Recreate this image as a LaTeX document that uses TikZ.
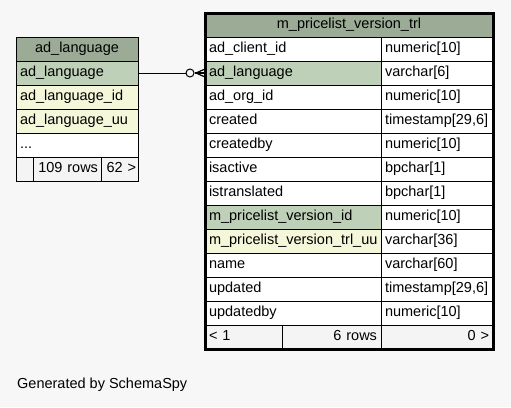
\documentclass[tikz,border=0pt]{standalone}
\usepackage{fontspec}
\setmainfont{Liberation Sans}
\usetikzlibrary{positioning}
\definecolor{bgcol}{HTML}{F7F7F7}
\definecolor{headcol}{HTML}{9BAB96}
\definecolor{keycol}{HTML}{BED1B8}
\definecolor{uucol}{HTML}{F4F7DA}
\definecolor{footcol}{HTML}{F4F4F4}
\newcommand{\tabfont}{\fontsize{14.5}{16}\selectfont}

\begin{document}
\begin{tikzpicture}[x=1pt, y=-1pt, every node/.style={font=\tabfont},
    cell/.style={draw, line width=0.8pt, fill=white, anchor=north west, inner xsep=4pt, inner ysep=0pt, outer sep=0pt,
      minimum height=24pt, text height=10.5pt, text depth=3pt, text width=#1, align=left},
    rcell/.style={cell=#1, align=right, fill=footcol},
    head/.style={cell=#1, align=center, fill=headcol}]
    \fill[bgcol] (0,0) rectangle (511,407);
    \useasboundingbox (0,0) rectangle (511,407);

    % ad_language
    \node[head=114pt] (lh) at (16,37) {ad\_language};
    \node[cell=114pt, fill=keycol] (l1) at (lh.south west) {ad\_language};
    \node[cell=114pt, fill=uucol] (l2) at (l1.south west) {ad\_language\_id};
    \node[cell=114pt, fill=uucol] (l3) at (l2.south west) {ad\_language\_uu};
    \node[cell=114pt] (l4) at (l3.south west) {...};
    \node[rcell=9pt] (lf1) at (l4.south west) {};
    \node[rcell=62pt, inner xsep=3pt] (lf2) at (lf1.north east) {109 rows};
    \node[rcell=33pt, inner xsep=2pt] (lf3) at (lf2.north east) {62 >};

    % m_pricelist_version_trl
    \node[head=280pt] (rh) at (205,13) {m\_pricelist\_version\_trl};
    \node[cell=168pt] (rn1) at (rh.south west) {ad\_client\_id};
    \node[cell=168pt, fill=keycol] (rn2) at (rn1.south west) {ad\_language};
    \node[cell=168pt] (rn3) at (rn2.south west) {ad\_org\_id};
    \node[cell=168pt] (rn4) at (rn3.south west) {created};
    \node[cell=168pt] (rn5) at (rn4.south west) {createdby};
    \node[cell=168pt] (rn6) at (rn5.south west) {isactive};
    \node[cell=168pt] (rn7) at (rn6.south west) {istranslated};
    \node[cell=168pt, fill=keycol] (rn8) at (rn7.south west) {m\_pricelist\_version\_id};
    \node[cell=168pt, fill=uucol] (rn9) at (rn8.south west) {m\_pricelist\_version\_trl\_uu};
    \node[cell=168pt] (rn10) at (rn9.south west) {name};
    \node[cell=168pt] (rn11) at (rn10.south west) {updated};
    \node[cell=168pt] (rn12) at (rn11.south west) {updatedby};
    \node[cell=104pt] (rt1) at (rn1.north east) {numeric[10]};
    \node[cell=104pt] (rt2) at (rn2.north east) {varchar[6]};
    \node[cell=104pt] (rt3) at (rn3.north east) {numeric[10]};
    \node[cell=104pt] (rt4) at (rn4.north east) {timestamp[29,6]};
    \node[cell=104pt] (rt5) at (rn5.north east) {numeric[10]};
    \node[cell=104pt] (rt6) at (rn6.north east) {bpchar[1]};
    \node[cell=104pt] (rt7) at (rn7.north east) {bpchar[1]};
    \node[cell=104pt] (rt8) at (rn8.north east) {numeric[10]};
    \node[cell=104pt] (rt9) at (rn9.north east) {varchar[36]};
    \node[cell=104pt] (rt10) at (rn10.north east) {varchar[60]};
    \node[cell=104pt] (rt11) at (rn11.north east) {timestamp[29,6]};
    \node[cell=104pt] (rt12) at (rn12.north east) {numeric[10]};
    \node[cell=69pt, fill=footcol] (rf1) at (rn12.south west) {< 1};
    \node[rcell=91pt] (rf2) at (rf1.north east) {6 rows};
    \node[rcell=104pt] (rf3) at (rf2.north east) {0 >};
    \draw[line width=3pt] (rh.north west) rectangle (rf3.south east);

    % relation
    \node[circle, draw, line width=1pt, fill=bgcol, minimum size=8pt, inner sep=0pt] (ring) at (190,73) {};
    \coordinate (crow) at (196,73);
    \draw[line width=0.8pt] (l1.east) -- (ring);
    \draw[line width=1.2pt] (ring) -- (rn2.west);
    \draw[line width=1.2pt] (crow) -- ([yshift=-4pt]rn2.west);
    \draw[line width=1.2pt] (crow) -- ([yshift=4pt]rn2.west);

    \node[anchor=west, inner sep=0pt] (gen) at (17,385) {Generated by SchemaSpy};
\end{tikzpicture}
\end{document}
